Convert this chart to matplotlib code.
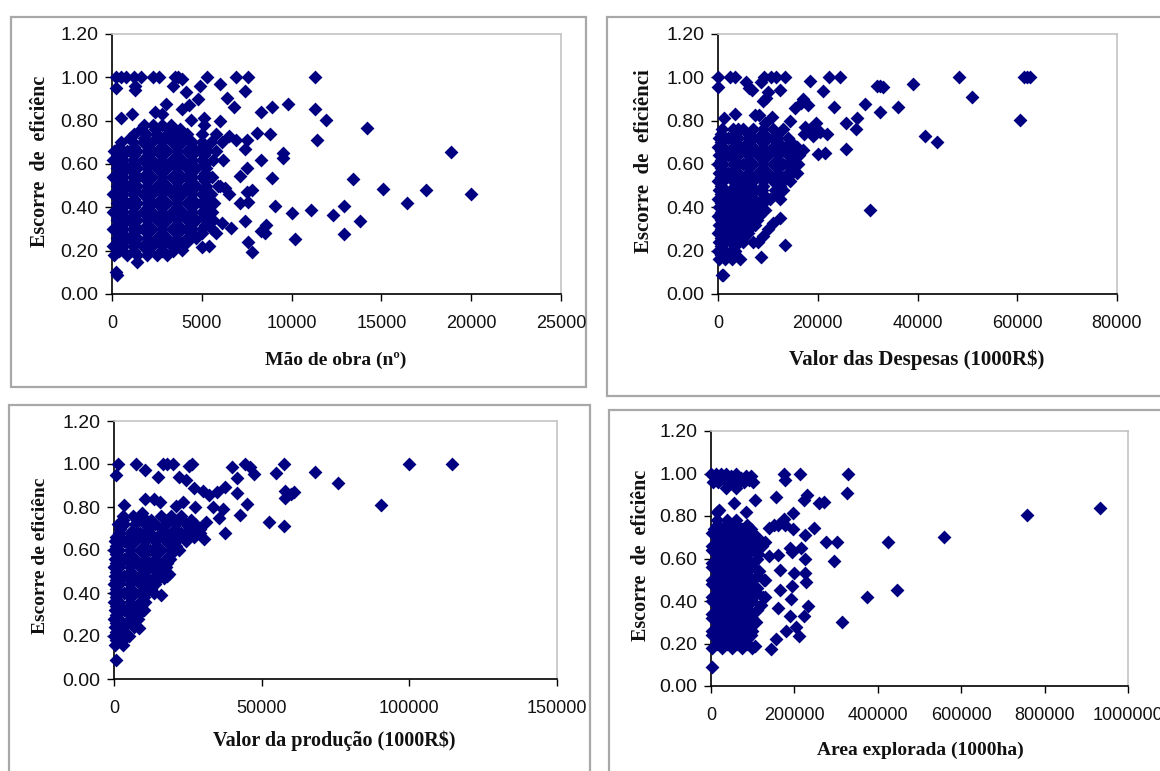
import matplotlib
matplotlib.use("Agg")
import matplotlib.pyplot as plt
from matplotlib.patches import Rectangle

W, H = 1160, 771
NAVY = "#000080"

# --- Mao de obra: dense cloud read as rows of score -> values, then loose points
mao_rows_y = [0.18, 0.22, 0.26, 0.30, 0.34, 0.38, 0.42, 0.46, 0.50, 0.54, 0.58, 0.62, 0.66, 0.70, 0.74, 0.78,
              0.20, 0.24, 0.28, 0.32, 0.36, 0.40, 0.44, 0.48, 0.52, 0.56, 0.60, 0.64, 0.68, 0.72, 0.76]
mao_rows_x = [
    [100, 850, 1400, 1950, 2500, 3050],
    [50, 600, 1150, 1700, 2250, 2800, 3350, 3900],
    [300, 850, 1400, 1950, 2500, 3050, 3600, 4150, 4700],
    [50, 600, 1150, 1700, 2250, 2800, 3350, 3900, 4450, 5000, 5550],
    [300, 850, 1400, 1950, 2500, 3050, 3600, 4150, 4700, 5250, 5600],
    [50, 600, 1150, 1700, 2250, 2800, 3350, 3900, 4450, 5000, 5550],
    [300, 850, 1400, 1950, 2500, 3050, 3600, 4150, 4700, 5250, 5700],
    [50, 600, 1150, 1700, 2250, 2800, 3350, 3900, 4450, 5000, 5500],
    [300, 850, 1400, 1950, 2500, 3050, 3600, 4150, 4700, 5250, 5900],
    [50, 600, 1150, 1700, 2250, 2800, 3350, 3900, 4450, 5000, 5550],
    [300, 850, 1400, 1950, 2500, 3050, 3600, 4150, 4700, 5250],
    [50, 600, 1150, 1700, 2250, 2800, 3350, 3900, 4450, 5000, 5600, 6200],
    [100, 850, 1400, 1950, 2500, 3050, 3600, 4150, 4700, 5300, 5800],
    [500, 1150, 1700, 2250, 2800, 3350, 3900, 4450, 5000, 5500, 6100],
    [1200, 1900, 2500, 3050, 3600, 4150, 5000, 5800],
    [1800, 2300, 2800, 3300, 5100],
    [400, 1200, 2000, 2800, 3400],
    [400, 1200, 2000, 2800, 3600, 4200],
    [400, 1200, 2000, 2800, 3600, 4400, 5000],
    [400, 1200, 2000, 2800, 3600, 4400, 5200],
    [400, 1200, 2000, 2800, 3600, 4400, 5200],
    [400, 1200, 2000, 2800, 3600, 4400, 5200],
    [400, 1200, 2000, 2800, 3600, 4400, 5200],
    [400, 1200, 2000, 2800, 3600, 4400, 5200],
    [400, 1200, 2000, 2800, 3600, 4400, 5200],
    [400, 1200, 2000, 2800, 3600, 4400, 5200],
    [400, 1200, 2000, 2800, 3600, 4400, 5200],
    [400, 1200, 2000, 2800, 3600, 4400, 5100],
    [400, 1200, 2000, 2800, 3600, 4400, 5000],
    [1000, 1800, 2600, 3400, 4200],
    [1600, 2400, 3200, 3800],
]
mao_x = [200, 500, 800, 1200, 1600, 2300, 2600, 3500, 3700, 3900, 5300, 6900, 7600, 11300, 250, 1300, 1300,
         3400, 4900, 6000, 7400, 4100, 4800, 6400, 4300, 6800, 3000, 3900, 8900, 9800, 8300, 11300, 500,
         1100, 2400, 2800, 4400, 5100, 6000, 11900, 14200, 8100, 8800, 11400, 7500, 7400, 6500, 6900, 9500,
         9500, 18900, 8300, 7500, 7100, 8900, 13400, 15100, 17500, 20000, 16400, 12900, 12300, 11100, 9100,
         10000, 7800, 7500, 7600, 7100, 6500, 6000, 6300, 7400, 8600, 8300, 8500, 10200, 12900, 13800, 7600,
         7800, 6600, 6100, 5800, 5400, 5000, 3900, 300, 200, 1400]
mao_y = [1.0, 1.0, 1.0, 1.0, 1.0, 1.0, 1.0, 1.0, 1.0, 0.99, 1.0, 1.0, 1.0, 1.0, 0.95, 0.94, 0.96,
         0.96, 0.96, 0.97, 0.935, 0.93, 0.9, 0.905, 0.87, 0.865, 0.875, 0.855, 0.865, 0.875, 0.84, 0.855, 0.81,
         0.83, 0.84, 0.83, 0.805, 0.81, 0.8, 0.805, 0.765, 0.745, 0.74, 0.71, 0.71, 0.67, 0.73, 0.71, 0.65,
         0.63, 0.655, 0.62, 0.58, 0.545, 0.535, 0.53, 0.485, 0.48, 0.46, 0.42, 0.405, 0.365, 0.39, 0.405,
         0.375, 0.48, 0.47, 0.425, 0.42, 0.46, 0.5, 0.49, 0.335, 0.32, 0.29, 0.28, 0.255, 0.275, 0.335, 0.24,
         0.195, 0.305, 0.33, 0.28, 0.22, 0.215, 0.205, 0.09, 0.1, 0.15]

# --- Valor das despesas
desp_rows_y = [0.16, 0.20, 0.24, 0.28, 0.32, 0.36, 0.40, 0.44, 0.48, 0.52, 0.56, 0.60, 0.64, 0.68, 0.72, 0.76,
               0.18, 0.22, 0.26, 0.30, 0.34, 0.38, 0.42, 0.46, 0.50, 0.54, 0.58, 0.62, 0.66, 0.70, 0.74]
desp_rows_x = [
    [300, 1500, 2900],
    [0, 1400, 2600, 3500],
    [300, 1500, 2700, 3900, 5000],
    [0, 1000, 2200, 3400, 4600, 6000],
    [300, 1500, 2700, 3900, 5100, 6300, 7500],
    [0, 1000, 2200, 3400, 4600, 6000, 7200, 8200],
    [300, 1500, 2700, 3900, 5100, 6300, 7500, 8300],
    [0, 1000, 2200, 3400, 4600, 6000, 7200, 9000, 10500, 12500],
    [300, 1500, 2700, 3900, 5100, 6300, 7500, 8800, 11500, 13000],
    [0, 1000, 3000, 5000, 7000, 9000, 11000, 13000, 14500],
    [300, 2000, 4000, 6000, 8000, 10000, 12000, 14000, 15800],
    [0, 1000, 3000, 5000, 7000, 9000, 11000, 13000, 15000, 16000],
    [300, 2000, 4000, 6000, 8000, 10000, 12000, 14000, 16200],
    [0, 1000, 3000, 5000, 7000, 9000, 11000, 13000, 15000, 15800],
    [300, 2000, 4000, 6000, 8000, 10000, 12000, 14000],
    [800, 3000, 5000, 7000, 9000, 11000, 13000],
    [600, 2500],
    [600, 3400],
    [600, 3400, 5000],
    [600, 3400, 6200],
    [600, 3400, 6200, 7800],
    [600, 3400, 6200, 8000],
    [600, 3400, 6200, 9000],
    [600, 3400, 6200, 9000, 11800],
    [600, 3400, 6200, 9000, 12500],
    [600, 3400, 6200, 9000, 11800, 14000],
    [600, 3400, 6200, 9000, 11800, 14600],
    [600, 3400, 6200, 9000, 11800, 14600],
    [600, 3400, 6200, 9000, 11800, 14600],
    [600, 3400, 6200, 9000, 11800, 14600],
    [600, 3400, 6200, 9000, 11800],
]
desp_x = [0, 2500, 3400, 5700, 8600, 9300, 10700, 11700, 13500, 18500, 22200, 24500, 48300, 61400, 62000, 62600,
          6300, 6800, 0, 12400, 21000, 10000, 9700, 9000, 16700, 17100, 15500, 18000, 23200, 29500, 31800, 32500,
          33100, 39000, 36000, 51000, 32500, 27800, 25600, 27700, 60600, 41500, 44000, 25600, 30500, 13400, 4500,
          8600, 1000, 800, 1200, 3400, 7400, 8300, 9500, 10800, 14500, 17500, 19700, 21800, 17200, 19000, 17000,
          20000, 21500, 18500, 20500, 4000, 12500, 11000, 9500, 10000, 8000, 9000, 7000]
desp_y = [1.0, 1.0, 1.0, 0.98, 0.98, 1.0, 1.0, 1.0, 1.0, 0.985, 1.0, 1.0, 1.0, 1.0, 1.0, 1.0,
          0.95, 0.94, 0.955, 0.94, 0.935, 0.93, 0.905, 0.89, 0.88, 0.9, 0.86, 0.87, 0.865, 0.875, 0.96, 0.96,
          0.955, 0.97, 0.865, 0.91, 0.84, 0.81, 0.79, 0.76, 0.805, 0.73, 0.7, 0.67, 0.39, 0.225, 0.16,
          0.17, 0.09, 0.09, 0.81, 0.83, 0.825, 0.825, 0.79, 0.815, 0.8, 0.77, 0.79, 0.74, 0.74, 0.73, 0.665,
          0.645, 0.65, 0.76, 0.75, 0.76, 0.35, 0.33, 0.39, 0.3, 0.24, 0.27, 0.24]

# --- Valor da producao
prod_rows_y = [0.16, 0.20, 0.24, 0.28, 0.32, 0.36, 0.40, 0.44, 0.48, 0.52, 0.56, 0.60, 0.64, 0.68, 0.72, 0.76,
               0.18, 0.22, 0.26, 0.30, 0.34, 0.38, 0.42, 0.46, 0.50, 0.54, 0.58, 0.62, 0.66, 0.70, 0.74]
prod_rows_x = [
    [500, 3000],
    [0, 1800, 5000],
    [500, 3500, 6800],
    [0, 1800, 5300, 8000],
    [500, 3500, 7000, 10000],
    [0, 1800, 5300, 8800, 10500],
    [500, 3500, 7000, 10500, 13500],
    [0, 1800, 5300, 8800, 12300, 14000],
    [500, 3500, 7000, 10500, 14000, 18000],
    [0, 1800, 5300, 8800, 12300, 15800, 17500],
    [500, 3500, 7000, 10500, 14000, 17500, 19000],
    [0, 1800, 5300, 8800, 12300, 15800, 19300, 22000],
    [500, 3500, 7000, 10500, 14000, 17500, 21000, 24500],
    [1800, 5300, 8800, 12300, 15800, 19300, 22800, 26300, 29000],
    [1500, 3500, 7000, 10500, 14000, 17500, 21000, 24500, 27500],
    [3000, 6500, 9500, 15800, 19300, 22800],
    [600, 3000],
    [600, 3500],
    [600, 4500],
    [600, 5300, 8000],
    [600, 5300, 9000],
    [600, 5300, 10000],
    [600, 5300, 10000, 12500],
    [600, 5300, 10000, 14700],
    [600, 5300, 10000, 14700, 16500],
    [600, 5300, 10000, 14700, 18000],
    [600, 5300, 10000, 14700, 19400],
    [600, 5300, 10000, 14700, 19400, 21000],
    [600, 5300, 10000, 14700, 19400, 24100],
    [2000, 6700, 11400, 16100, 20800, 25500, 28000],
    [3000, 7700, 12400, 17100, 21800, 26000],
]
prod_x = [1500, 600, 7500, 10500, 15000, 16500, 18000, 20000, 25500, 26500, 22000, 24500, 40000, 44500, 46000,
          47500, 41500, 57500, 55000, 68000, 76000, 100000, 114500, 58000, 60000, 61000, 58000, 90500, 52500,
          57500, 41500, 27000, 30000, 32000, 35000, 37500, 45000, 42500, 35500, 37000, 33500, 37500, 3500, 10500,
          13500, 15500, 21000, 23500, 27500, 9500, 30500, 27000, 16000, 18500, 17000, 8500, 600, 31000, 29000]
prod_y = [1.0, 0.95, 1.0, 0.97, 0.94, 1.0, 1.0, 1.0, 0.99, 1.0, 0.94, 0.925, 0.985, 1.0, 0.985,
          0.955, 0.935, 1.0, 0.96, 0.965, 0.91, 1.0, 1.0, 0.875, 0.86, 0.87, 0.84, 0.81, 0.73,
          0.71, 0.865, 0.89, 0.875, 0.855, 0.87, 0.895, 0.815, 0.765, 0.75, 0.79, 0.8, 0.68, 0.81, 0.835,
          0.835, 0.825, 0.805, 0.825, 0.8, 0.77, 0.65, 0.66, 0.39, 0.49, 0.47, 0.235, 0.09, 0.73, 0.7]

# --- Area explorada
area_rows_y = [0.18, 0.22, 0.26, 0.30, 0.34, 0.38, 0.42, 0.46, 0.50, 0.54, 0.58, 0.62, 0.66, 0.70, 0.74, 0.78,
               0.20, 0.24, 0.28, 0.32, 0.36, 0.40, 0.44, 0.48, 0.52, 0.56, 0.60, 0.64, 0.68, 0.72, 0.76]
area_rows_x = [
    [3000, 27000, 51000, 75000, 99000],
    [15000, 39000, 63000, 87000],
    [3000, 27000, 51000, 75000, 99000],
    [15000, 39000, 63000, 87000, 108000],
    [3000, 27000, 51000, 75000, 99000],
    [15000, 39000, 63000, 87000, 120000],
    [3000, 27000, 51000, 75000, 99000, 125000],
    [15000, 39000, 63000, 87000, 110000],
    [3000, 27000, 51000, 75000, 99000, 128000],
    [15000, 39000, 63000, 87000, 115000],
    [3000, 27000, 51000, 75000, 100000],
    [15000, 39000, 63000, 87000, 112000],
    [3000, 27000, 51000, 75000, 99000, 122000],
    [15000, 39000, 63000, 87000, 110000],
    [6000, 27000, 51000, 75000, 95000],
    [15000, 39000, 60000],
    [15000, 39000, 63000, 87000],
    [3000, 27000, 51000, 75000, 95000],
    [15000, 39000, 63000, 87000],
    [3000, 27000, 51000, 75000, 99000],
    [15000, 39000, 63000, 87000, 110000],
    [3000, 27000, 51000, 75000, 99000],
    [15000, 39000, 63000, 87000, 110000],
    [3000, 27000, 51000, 75000, 99000],
    [15000, 39000, 63000, 87000, 110000],
    [3000, 27000, 51000, 75000, 99000],
    [15000, 39000, 63000, 87000, 110000],
    [3000, 27000, 51000, 75000, 99000],
    [15000, 39000, 63000, 87000, 110000],
    [3000, 27000, 51000, 75000, 99000],
    [15000, 39000, 63000, 87000],
]
area_x = [0, 12000, 24000, 36000, 48000, 60000, 72000, 84000, 95000, 5000, 17000, 30000, 44000, 56000, 68000, 80000,
          92000, 100000, 35000, 60000, 329000, 325000, 175000, 177000, 213000, 155000, 230000, 222000, 105000,
          55000, 260000, 270000, 85000, 197000, 160000, 175000, 177000, 197000, 247000, 225000, 275000, 302000,
          425000, 558000, 757000, 932000, 295000, 190000, 215000, 225000, 160000, 195000, 165000, 200000, 225000,
          228000, 195000, 165000, 193000, 375000, 447000, 232000, 160000, 190000, 222000, 315000, 205000, 180000,
          212000, 155000, 145000, 140000, 130000, 140000, 150000, 130000, 130000, 105000, 3000, 15000, 20000]
area_y = [1.0, 1.0, 1.0, 1.0, 0.99, 1.0, 0.98, 0.99, 0.99, 0.96, 0.96, 0.97, 0.96, 0.96, 0.96, 0.96,
          0.97, 0.96, 0.93, 0.93, 1.0, 0.91, 1.0, 0.97, 1.0, 0.89, 0.9, 0.875, 0.875,
          0.86, 0.86, 0.865, 0.82, 0.815, 0.76, 0.785, 0.76, 0.74, 0.745, 0.71, 0.68, 0.68,
          0.68, 0.7, 0.805, 0.84, 0.59, 0.65, 0.65, 0.6, 0.615, 0.63, 0.545, 0.53, 0.53,
          0.49, 0.47, 0.45, 0.41, 0.42, 0.45, 0.375, 0.365, 0.33, 0.33, 0.3, 0.28, 0.26,
          0.235, 0.22, 0.175, 0.61, 0.68, 0.745, 0.76, 0.5, 0.42, 0.19, 0.09, 0.82, 0.83]

y_ticks = [0.0, 0.2, 0.4, 0.6, 0.8, 1.0, 1.2]
mao_ticks = [0, 5000, 10000, 15000, 20000, 25000]
desp_ticks = [0, 20000, 40000, 60000, 80000]
prod_ticks = [0, 50000, 100000, 150000]
area_ticks = [0, 200000, 400000, 600000, 800000, 1000000]

fig = plt.figure(figsize=(W / 100, H / 100), dpi=100, facecolor="white")


def frame(x0, y0, x1, y1):
    fig.add_artist(Rectangle((x0 / W, 1 - y1 / H), (x1 - x0) / W, (y1 - y0) / H, transform=fig.transFigure,
                             facecolor="white", edgecolor="#a8a8a8", linewidth=1.6, zorder=-1))


def panel(box, ticks, rows_y, rows_x, xs, ys, xlabel, xlabel_pos, xsize, ylabel, ylabel_pos, ysize):
    left, top, right, bottom = box
    ax = fig.add_axes([left / W, 1 - bottom / H, (right - left) / W, (bottom - top) / H], facecolor="none")
    for y, row in zip(rows_y, rows_x):
        ax.scatter(row, [y] * len(row), marker="D", s=50, color=NAVY, linewidths=0, clip_on=False, zorder=3)
    ax.scatter(xs, ys, marker="D", s=50, color=NAVY, linewidths=0, clip_on=False, zorder=3)
    ax.set_xlim(ticks[0], ticks[-1])
    ax.set_ylim(0, 1.2)
    ax.set_xticks(ticks)
    ax.set_xticklabels([str(t) for t in ticks])
    ax.set_yticks(y_ticks)
    ax.set_yticklabels(["%.2f" % t for t in y_ticks])
    ax.tick_params(axis="both", length=5, width=1, color="black", labelsize=14, labelcolor="#111111")
    ax.tick_params(axis="x", pad=10, labelsize=13)
    ax.tick_params(axis="y", pad=5)
    for lab in ax.get_xticklabels() + ax.get_yticklabels():
        lab.set_fontfamily("Liberation Sans")
    for side in ("top", "right"):
        ax.spines[side].set_color("#c4c4c4")
        ax.spines[side].set_linewidth(1.2)
    for side in ("left", "bottom"):
        ax.spines[side].set_color("black")
        ax.spines[side].set_linewidth(1.2)
    fig.text(xlabel_pos[0] / W, 1 - xlabel_pos[1] / H, xlabel, ha="center", va="center",
             family="Liberation Serif", weight="bold", fontsize=xsize, color="#111111")
    fig.text(ylabel_pos[0] / W, 1 - ylabel_pos[1] / H, ylabel, ha="center", va="center", rotation=90,
             family="Liberation Serif", weight="bold", fontsize=ysize, color="#111111")


frame(11, 17, 586, 387)
frame(607, 17, 1170, 396)
frame(9, 405, 590, 785)
frame(609, 410, 1170, 785)

panel((112, 34, 561, 294), mao_ticks, mao_rows_y, mao_rows_x, mao_x, mao_y,
      "Mão de obra (nº)", (336, 360), 14, "Escorre  de  eficiênc", (40, 161), 14.5)
panel((718, 34, 1117, 294), desp_ticks, desp_rows_y, desp_rows_x, desp_x, desp_y,
      "Valor das Despesas (1000R$)", (917, 360), 15, "Escorre  de  eficiênci", (644, 161), 15)
panel((114, 421, 557, 679), prod_ticks, prod_rows_y, prod_rows_x, prod_x, prod_y,
      "Valor da produção (1000R$)", (334, 741), 14.5, "Escorre de eficiênc", (41, 556), 14)
panel((711, 431, 1128, 686), area_ticks, area_rows_y, area_rows_x, area_x, area_y,
      "Area explorada (1000ha)", (920, 750), 14, "Escorre  de  eficiênc", (641, 555), 14.5)

fig.savefig("out.png", dpi=100)
